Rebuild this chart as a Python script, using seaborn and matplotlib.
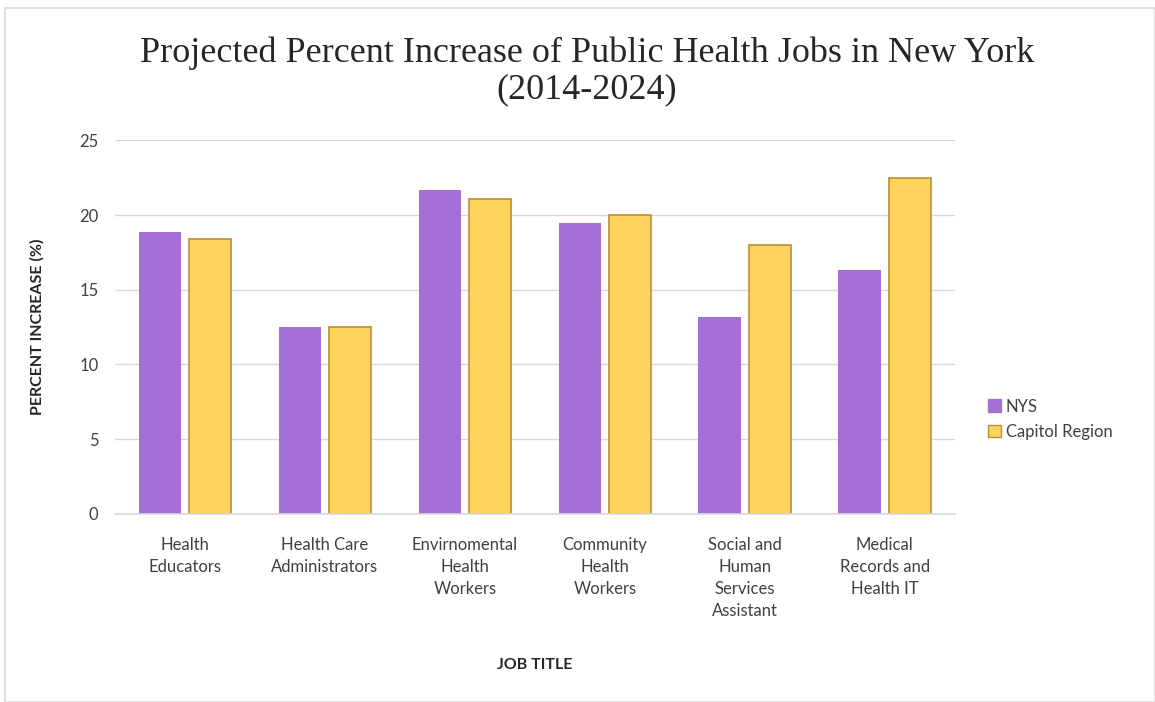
import matplotlib
matplotlib.use("Agg")
import matplotlib.pyplot as plt
import seaborn as sns
import pandas as pd
from matplotlib.patches import Rectangle, Patch

categories = ["Health\nEducators", "Health Care\nAdministrators", "Envirnomental\nHealth\nWorkers",
              "Community\nHealth\nWorkers", "Social and\nHuman\nServices\nAssistant",
              "Medical\nRecords and\nHealth IT"]
nys = [18.9, 12.5, 21.7, 19.5, 13.2, 16.3]
capitol = [18.4, 12.5, 21.1, 20.0, 18.0, 22.5]
series = ["NYS", "Capitol Region"]
yticks = [0, 5, 10, 15, 20, 25]

df = pd.DataFrame({
    "job": categories * 2,
    "value": nys + capitol,
    "series": [series[0]] * len(nys) + [series[1]] * len(capitol),
})

sns.set_theme(style="white")
plt.rcParams['font.family'] = ['Lato', 'DejaVu Sans']

purple = "#A66FD6"
yellow = "#FFD35C"
yedge = "#B8903A"

fig = plt.figure(figsize=(11.55, 7.02), dpi=100)
ax = fig.add_axes([0.0996, 0.268, 0.727, 0.532])
sns.barplot(data=df, x="job", y="value", hue="series", palette=[purple, yellow],
            width=0.72, gap=0.16, ax=ax, legend=False, saturation=1)

for bar in ax.containers[1]:
    bar.set_edgecolor(yedge)
    bar.set_linewidth(1.2)
for bar in ax.containers[0]:
    bar.set_edgecolor(purple)
    bar.set_linewidth(0)

ax.set_ylim(0, 25)
ax.set_yticks(yticks)
ax.set_yticklabels([str(t) for t in yticks], fontsize=12, color="#404040")
ax.set_xlim(-0.5, len(categories) - 0.5)
ax.tick_params(axis="x", labelsize=12, colors="#404040", length=0, pad=17)
ax.tick_params(axis="y", length=0, pad=12)
for lbl in ax.get_xticklabels():
    lbl.set_linespacing(1.45)
    lbl.set_verticalalignment("top")
ax.yaxis.grid(True, color="#D9D9D9", linewidth=1)
ax.set_axisbelow(True)
for s in ["top", "right", "left"]:
    ax.spines[s].set_visible(False)
ax.spines["bottom"].set_color("#D9D9D9")

ax.set_ylabel("PERCENT INCREASE (%)", fontsize=11.5, fontweight="bold", color="#262626", labelpad=25)
ax.set_xlabel("JOB TITLE", fontsize=11.5, fontweight="bold", color="#262626", labelpad=28)

fig.text(0.508, 0.898, "Projected Percent Increase of Public Health Jobs in New York\n(2014-2024)",
         ha="center", va="center", fontsize=26, family=["Liberation Serif"], color="#262626",
         linespacing=1.12)

handles = [Patch(facecolor=purple, edgecolor=purple, label="NYS"),
           Patch(facecolor=yellow, edgecolor=yedge, label="Capitol Region")]
fig.legend(handles=handles, loc="center left", bbox_to_anchor=(0.842, 0.403), frameon=False,
           fontsize=12, handlelength=0.8, handleheight=0.8, handletextpad=0.3, labelspacing=0.55,
           labelcolor="#404040")

fig.patches.append(Rectangle((0.004, 0.0), 0.996, 0.988, transform=fig.transFigure,
                             fill=False, edgecolor="#D9D9D9", linewidth=1.2))

fig.savefig("out.png", dpi=100)
